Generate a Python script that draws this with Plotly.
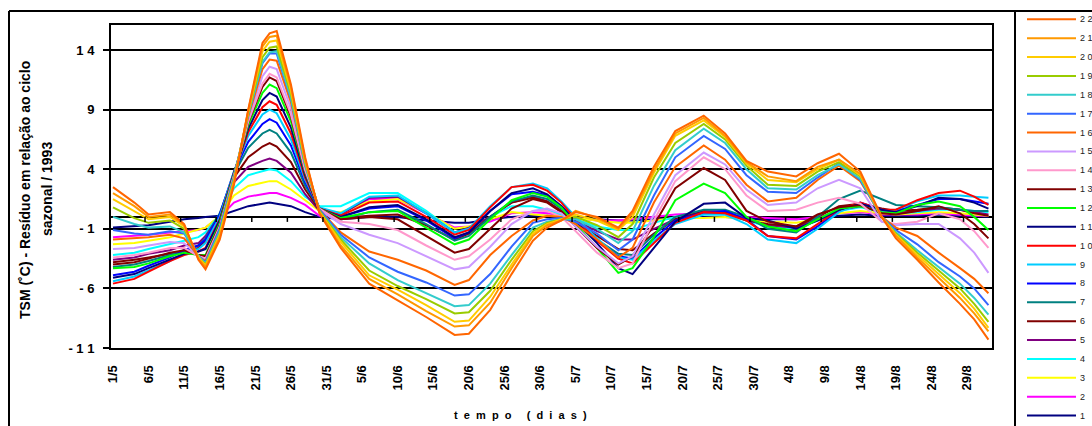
import plotly.graph_objects as go

# ---------------- data ----------------
days = [0, 3, 5, 8, 10, 12, 13, 15, 17, 19,
        21, 22, 23, 25, 27, 29, 32, 36, 40, 44,
        48, 50, 53, 56, 59, 61, 63, 65, 68, 71,
        73, 76, 79, 83, 86, 89, 92, 96, 99, 102,
        105, 108, 110, 113, 116, 119, 121, 123]

s22 = [2.5, 1.2, 0.2, 0.4, -0.6, -3.6, -4.4, -1.9, 2.7, 9.0, 14.6, 15.4, 15.6, 11.1, 5.0, 0.3, -2.6, -5.6, -7.0, -8.4, -9.9, -9.8, -7.8, -4.8, -2.0, -0.9, -0.3, 0.4, 0.0, -0.9, 0.5, 4.2, 7.2, 8.5, 7.0, 4.7, 3.8, 3.4, 4.5, 5.3, 3.8, 0.0, -1.8, -3.6, -5.5, -7.3, -8.6, -10.3]
s21 = [2.0, 0.9, 0.0, 0.2, -0.7, -3.5, -4.2, -1.7, 2.9, 8.9, 14.3, 15.1, 15.2, 10.9, 4.8, 0.4, -2.4, -5.2, -6.5, -7.9, -9.2, -9.1, -7.2, -4.3, -1.6, -0.7, -0.3, 0.5, -0.1, -1.0, 0.3, 3.9, 7.0, 8.3, 6.8, 4.6, 3.4, 3.0, 4.2, 4.8, 3.6, 0.0, -1.6, -3.4, -5.1, -6.8, -8.1, -9.6]
s20 = [1.5, 0.5, -0.2, 0.0, -0.8, -3.4, -4.1, -1.5, 3.0, 8.8, 13.9, 14.7, 14.8, 10.6, 4.7, 0.4, -2.1, -4.9, -6.1, -7.4, -8.8, -8.7, -6.7, -4.0, -1.4, -0.6, -0.2, 0.2, -0.3, -1.1, 0.0, 3.7, 6.8, 8.1, 6.7, 4.5, 3.1, 2.9, 4.0, 4.8, 3.5, 0.0, -1.5, -3.2, -4.8, -6.4, -7.7, -9.3]
s19 = [0.8, -0.1, -0.5, -0.3, -1.0, -3.4, -4.0, -1.4, 3.1, 8.7, 13.4, 14.2, 14.3, 10.3, 4.6, 0.5, -1.9, -4.5, -5.8, -6.9, -8.1, -8.0, -6.2, -3.6, -1.2, -0.5, -0.2, 0.0, -0.7, -1.7, -0.6, 3.3, 6.2, 7.8, 6.5, 4.3, 2.7, 2.6, 3.8, 4.6, 3.4, 0.0, -1.4, -3.0, -4.5, -6.0, -7.3, -8.8]
s18 = [0.0, -0.6, -0.9, -0.8, -1.3, -3.3, -3.9, -1.2, 3.2, 8.6, 13.0, 13.8, 13.9, 10.0, 4.4, 0.5, -1.7, -3.9, -5.3, -6.4, -7.5, -7.4, -5.6, -3.2, -0.9, -0.4, -0.2, -0.2, -1.0, -2.2, -1.2, 2.6, 5.6, 7.4, 6.2, 4.0, 2.4, 2.3, 3.5, 4.4, 3.2, 0.0, -1.3, -2.8, -4.2, -5.6, -6.8, -8.2]
s17 = [-1.1, -1.4, -1.5, -1.2, -1.4, -3.3, -3.8, -1.0, 3.3, 8.6, 12.9, 13.7, 13.7, 9.9, 4.4, 0.6, -1.5, -3.4, -4.6, -5.5, -6.6, -6.5, -4.8, -2.5, -0.5, -0.2, -0.1, -0.4, -1.4, -2.8, -1.9, 1.8, 5.0, 6.8, 5.7, 3.5, 2.1, 2.0, 3.3, 4.5, 3.1, 0.0, -1.1, -2.3, -3.8, -5.0, -6.0, -7.4]
s16 = [-1.9, -1.8, -1.7, -1.5, -1.8, -3.3, -3.7, -1.0, 3.3, 8.4, 12.4, 13.2, 13.1, 9.6, 4.3, 0.6, -1.3, -2.9, -3.6, -4.5, -5.7, -5.3, -3.2, -1.6, -0.3, 0.1, 0.0, -0.6, -1.9, -3.4, -2.6, 1.2, 4.2, 6.0, 4.8, 2.7, 1.3, 1.6, 3.1, 4.3, 3.0, 0.0, -0.9, -1.6, -3.0, -4.3, -5.2, -6.4]
s15 = [-2.7, -2.6, -2.4, -2.1, -2.2, -3.3, -3.6, -0.9, 3.4, 8.2, 11.8, 12.6, 12.4, 9.1, 4.1, 0.6, -0.6, -1.5, -2.2, -3.3, -4.4, -4.2, -2.5, -0.6, 0.5, 0.7, 0.3, -0.8, -2.5, -3.9, -3.3, 0.2, 3.5, 5.4, 4.4, 2.3, 1.0, 1.2, 2.4, 3.1, 2.4, -0.4, -0.7, -0.6, -0.6, -1.8, -3.0, -4.7]
s14 = [-3.4, -3.2, -3.0, -2.6, -2.6, -3.3, -3.5, -0.8, 3.5, 8.0, 11.2, 12.0, 11.7, 8.6, 3.9, 0.7, -0.4, -0.6, -1.1, -2.4, -3.6, -3.3, -1.9, -0.2, 0.5, 0.5, 0.0, -1.2, -3.0, -4.3, -3.9, -0.3, 3.0, 5.0, 4.0, 1.8, 0.5, 0.6, 1.2, 1.6, 1.1, -0.4, -0.6, -0.4, 0.3, -0.2, -1.2, -2.6]
s13 = [-4.0, -3.8, -3.5, -3.0, -2.8, -3.2, -3.3, -0.7, 3.5, 7.9, 10.9, 11.7, 11.4, 8.4, 3.8, 0.7, -0.2, 0.0, -0.2, -1.6, -3.0, -2.7, -1.0, 0.7, 1.5, 1.2, 0.4, -0.8, -2.6, -4.0, -3.3, -0.7, 2.4, 4.1, 3.1, 0.5, -0.4, -0.8, 0.2, 0.8, 1.0, 0.3, 0.2, 0.5, 0.9, 0.3, -0.6, -1.8]
s12 = [-4.3, -4.2, -3.9, -3.3, -3.0, -3.2, -3.2, -0.5, 3.6, 7.7, 10.4, 11.1, 10.8, 8.0, 3.7, 0.7, -0.1, 0.4, 0.5, -0.9, -2.3, -1.9, -0.2, 1.4, 2.0, 1.7, 0.8, -0.6, -2.6, -4.7, -4.3, -1.7, 1.4, 2.8, 2.0, 0.0, -0.8, -1.2, -0.2, 0.7, 0.9, 0.4, 0.3, 1.0, 1.3, 0.9, 0.0, -1.1]
s11 = [-5.1, -4.8, -4.3, -3.6, -3.1, -2.9, -2.7, -0.3, 3.7, 7.4, 9.8, 10.4, 10.1, 7.5, 3.5, 0.7, 0.0, 0.8, 1.0, -0.2, -1.7, -1.3, 0.5, 2.0, 2.4, 1.9, 0.9, -0.4, -2.2, -4.3, -4.8, -2.6, -0.4, 1.1, 1.2, -0.1, -0.3, -1.0, -0.3, 0.6, 1.1, 0.6, 0.4, 0.9, 1.6, 1.5, 1.2, 0.7]
s10 = [-5.6, -5.2, -4.6, -3.7, -3.2, -2.9, -2.6, -0.2, 3.7, 7.1, 9.2, 9.7, 9.4, 7.0, 3.3, 0.7, 0.1, 1.2, 1.3, 0.0, -1.5, -1.1, 0.8, 2.5, 2.7, 2.2, 1.2, -0.2, -2.0, -3.5, -3.9, -2.2, -0.5, 0.4, 0.3, -0.3, -1.6, -1.8, -0.6, 0.6, 1.2, 0.6, 0.6, 1.4, 2.0, 2.2, 1.7, 1.0]
s9 = [-5.4, -5.0, -4.5, -3.7, -3.0, -2.7, -2.2, 0.0, 3.8, 6.8, 8.6, 9.0, 8.7, 6.5, 3.1, 0.8, 0.3, 1.7, 1.8, 0.3, -1.3, -1.0, 0.9, 2.5, 2.8, 2.4, 1.3, 0.0, -1.8, -3.4, -3.6, -2.0, -0.6, 0.2, 0.2, -0.6, -1.9, -2.2, -1.0, 0.4, 1.1, 0.5, 0.6, 1.3, 1.8, 1.8, 1.7, 1.6]
s8 = [-4.9, -4.6, -4.1, -3.4, -2.8, -2.4, -1.9, 0.2, 3.8, 6.3, 7.8, 8.2, 7.9, 6.0, 2.9, 0.7, 0.0, 0.7, 0.9, -0.3, -1.8, -1.3, 0.5, 1.9, 2.1, 1.8, 0.9, -0.3, -2.0, -3.3, -3.5, -1.8, -0.3, 0.4, 0.5, -0.2, -1.6, -1.9, -0.8, 0.5, 1.2, 0.6, 0.5, 1.0, 1.5, 1.5, 1.3, 1.1]
s7 = [-4.2, -4.0, -3.7, -3.2, -2.8, -2.4, -1.8, 0.3, 3.6, 5.8, 7.0, 7.3, 7.0, 5.4, 2.6, 0.7, -0.2, 0.4, 0.6, -0.6, -2.0, -1.6, 0.0, 1.3, 1.8, 1.5, 0.7, -0.3, -1.9, -3.1, -3.2, -1.5, 0.0, 0.6, 0.6, 0.0, -1.0, -1.3, 0.0, 1.5, 2.2, 1.5, 1.0, 0.9, 0.8, 0.6, 0.5, 0.5]
s6 = [-3.8, -3.6, -3.4, -3.1, -2.9, -2.6, -2.0, 0.2, 3.3, 5.0, 5.9, 6.2, 5.9, 4.6, 2.3, 0.6, -0.1, 0.1, 0.2, -0.7, -1.9, -1.4, 0.0, 1.2, 1.6, 1.3, 0.5, -0.4, -1.6, -2.7, -2.8, -1.4, -0.2, 0.5, 0.4, -0.3, -0.6, -0.8, 0.0, 0.9, 1.1, 0.7, 0.5, 0.6, 0.8, 0.6, 0.3, 0.1]
s5 = [-3.6, -3.4, -3.1, -2.8, -2.4, -2.2, -1.6, 0.2, 2.9, 4.2, 4.7, 4.9, 4.7, 3.7, 1.9, 0.5, 0.2, 1.6, 1.7, 0.3, -1.3, -0.9, 0.0, 1.2, 1.7, 1.3, 0.4, -0.3, -1.2, -1.9, -1.9, -1.0, -0.2, 0.3, 0.3, -0.2, -0.7, -0.9, -0.2, 0.6, 0.9, 0.5, 0.3, 0.5, 0.7, 0.6, 0.4, 0.2]
s4 = [-3.2, -3.0, -2.7, -2.3, -2.0, -1.7, -1.3, 0.2, 2.4, 3.5, 3.8, 4.0, 3.9, 3.0, 1.7, 0.9, 0.9, 2.0, 2.0, 0.5, -1.3, -1.0, 0.0, 0.9, 0.9, 0.6, 0.2, -0.2, -0.8, -1.1, -1.1, -0.5, 0.0, 0.2, 0.2, -0.3, -0.8, -1.0, -0.3, 0.5, 0.8, 0.4, 0.3, 0.4, 0.6, 0.6, 0.5, 0.4]
s3 = [-2.3, -2.2, -2.0, -1.7, -1.4, -1.1, -0.9, 0.1, 1.8, 2.6, 2.9, 3.0, 3.0, 2.3, 1.4, 0.5, 0.4, 1.3, 1.5, 0.4, -1.0, -0.8, -0.2, 0.4, 0.2, 0.1, 0.1, -0.1, -0.3, -0.5, -0.5, -0.3, -0.1, -0.1, 0.0, -0.2, -0.4, -0.5, -0.2, 0.3, 0.5, 0.3, 0.2, 0.3, 0.4, 0.3, 0.2, 0.1]
s2 = [-1.7, -1.6, -1.5, -1.3, -1.2, -1.1, -0.9, 0.0, 1.2, 1.7, 1.9, 2.0, 2.0, 1.6, 1.0, 0.1, 0.3, 1.5, 1.5, 0.3, -0.9, -0.8, -0.4, 0.3, 0.4, 0.3, 0.1, -0.1, -0.3, -0.3, -0.2, 0.0, 0.2, 0.3, 0.2, 0.0, -0.1, -0.2, 0.0, 0.3, 0.4, 0.2, 0.2, 0.2, 0.3, 0.2, 0.1, 0.1]
s1 = [-0.9, -0.8, -0.7, -0.4, -0.2, -0.1, 0.0, 0.1, 0.5, 0.9, 1.1, 1.2, 1.1, 0.9, 0.4, 0.0, -0.2, 0.0, 0.0, -0.3, -0.5, -0.5, -0.2, 0.0, 0.1, 0.1, 0.0, -0.1, -0.2, -0.3, -0.3, -0.2, -0.1, 0.0, 0.0, -0.1, -0.2, -0.2, -0.1, 0.1, 0.2, 0.1, 0.1, 0.1, 0.2, 0.1, 0.1, 0.0]

series_names = ["1", "2", "3", "4", "5", "6", "7", "8", "9", "10", "11",
                "12", "13", "14", "15", "16", "17", "18", "19", "20", "21", "22"]
colors = ["#000080", "#FF00FF", "#FFFF00", "#00FFFF", "#800080", "#800000",
          "#008080", "#0000FF", "#00CCFF", "#FF0000", "#000080", "#00FF00",
          "#800000", "#FF99CC", "#CC99FF", "#FF6600", "#3366FF", "#33CCCC",
          "#99CC00", "#FFCC00", "#FF9900", "#FF6600"]

x_tick_days = [0, 5, 10, 15, 20, 25, 30, 35, 40, 45, 50, 55, 60, 65, 70, 75,
               80, 85, 90, 95, 100, 105, 110, 115, 120]
x_tick_labels = ["1/5", "6/5", "11/5", "16/5", "21/5", "26/5", "31/5", "5/6",
                 "10/6", "15/6", "20/6", "25/6", "30/6", "5/7", "10/7", "15/7",
                 "20/7", "25/7", "30/7", "4/8", "9/8", "14/8", "19/8", "24/8", "29/8"]
y_tick_vals = [-11, -6, -1, 4, 9, 14]
y_tick_labels = ["-\u00a01\u00a01", "-\u00a06", "-\u00a01", "4", "9", "1\u00a04"]

all_series = [s1, s2, s3, s4, s5, s6, s7, s8, s9, s10, s11,
              s12, s13, s14, s15, s16, s17, s18, s19, s20, s21, s22]
for s in all_series:
    assert len(s) == len(days), len(s)

# ---------------- figure ----------------
W, H = 1092, 426
L, R, T, B = 111, 992, 25, 348   # plot area in pixels


def px_x(px):
    return (px - L) / (R - L)


def px_y(py):
    return (B - py) / (B - T)


FONT = "Liberation Sans, Arial, sans-serif"

fig = go.Figure()
for name, col, ys in zip(series_names, colors, all_series):
    fig.add_trace(go.Scatter(x=days, y=ys, mode="lines", name=name,
                             line=dict(color=col, width=2),
                             showlegend=False, hoverinfo="skip"))

shapes = []
# small tick marks on the zero (category) axis
for k in range(1, 25):
    shapes.append(dict(type="line", xref="x", yref="y", ysizemode="pixel",
                       yanchor=0, x0=5 * k - 0.5, x1=5 * k - 0.5, y0=0, y1=-5,
                       line=dict(color="black", width=1.5)))

# outer chart frame and legend box
frame = dict(color="black", width=2)
shapes.append(dict(type="line", xref="paper", yref="paper",
                   x0=px_x(9), x1=px_x(1092), y0=px_y(11), y1=px_y(11), line=frame))
shapes.append(dict(type="line", xref="paper", yref="paper",
                   x0=px_x(9), x1=px_x(9), y0=px_y(11), y1=px_y(430), line=frame))
shapes.append(dict(type="line", xref="paper", yref="paper",
                   x0=px_x(1015), x1=px_x(1015), y0=px_y(11), y1=px_y(430), line=frame))

annotations = []
# custom legend (22 at top ... 1 at bottom)
for i, idx in enumerate(range(len(series_names) - 1, -1, -1)):
    py = 19.3 + i * 18.87
    shapes.append(dict(type="line", xref="paper", yref="paper",
                       x0=px_x(1027), x1=px_x(1076), y0=px_y(py), y1=px_y(py),
                       line=dict(color=colors[idx], width=2)))
    annotations.append(dict(xref="paper", yref="paper", x=px_x(1078), y=px_y(py),
                            text="\u00a0".join(series_names[idx]), showarrow=False,
                            xanchor="left", yanchor="middle",
                            font=dict(family=FONT, size=9, color="#222")))

# axis titles
annotations.append(dict(xref="paper", yref="paper", x=px_x(25), y=px_y(190),
                        text="TSM (˚C) - Resíduo em relação ao ciclo",
                        textangle=-90, showarrow=False, xanchor="center", yanchor="middle",
                        font=dict(family=FONT, size=14, color="black", weight="bold")))
annotations.append(dict(xref="paper", yref="paper", x=px_x(47), y=px_y(189),
                        text="sazonal / 1993",
                        textangle=-90, showarrow=False, xanchor="center", yanchor="middle",
                        font=dict(family=FONT, size=14, color="black", weight="bold")))
annotations.append(dict(xref="paper", yref="paper", x=px_x(520), y=px_y(415),
                        text="\u00a0\u00a0".join("tempo") + "\u00a0" * 5 + "\u00a0\u00a0".join("(dias)"),
                        showarrow=False, xanchor="center", yanchor="middle",
                        font=dict(family=FONT, size=11, color="black", weight="bold")))

fig.update_layout(
    width=W, height=H,
    margin=dict(l=L, r=W - R, t=T, b=H - B, pad=0),
    paper_bgcolor="white", plot_bgcolor="white",
    shapes=shapes, annotations=annotations,
    showlegend=False,
    xaxis=dict(range=[-0.28, 123.5], tickmode="array", tickvals=x_tick_days,
               ticktext=x_tick_labels, tickangle=-90,
               tickfont=dict(family=FONT, size=13, color="black", weight="bold"),
               showgrid=False, zeroline=False, showline=True, linecolor="black",
               linewidth=2, mirror=True, ticks="", ticklabelstandoff=10),
    yaxis=dict(range=[-11, 16.1], tickmode="array", tickvals=y_tick_vals,
               ticktext=y_tick_labels,
               tickfont=dict(family=FONT, size=13, color="black", weight="bold"),
               showgrid=True, gridcolor="black", gridwidth=2,
               zeroline=True, zerolinecolor="black", zerolinewidth=2,
               showline=True, linecolor="black", linewidth=2, mirror=True,
               ticks="outside", ticklen=6, tickwidth=2, tickcolor="black",
               ticklabelstandoff=6),
)

fig.write_html("out.html")
